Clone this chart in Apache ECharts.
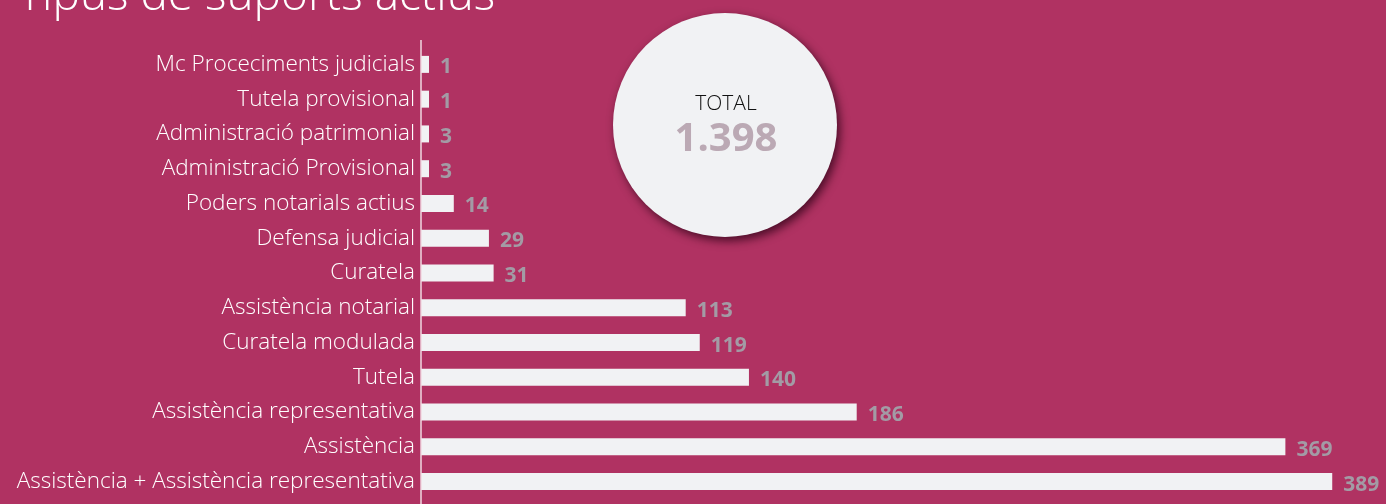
<!DOCTYPE html>
<html>
<head>
<meta charset="utf-8">
<script src="https://cdn.jsdelivr.net/npm/echarts@6/dist/echarts.min.js"></script>
<style>
    html, body { margin: 0; padding: 0; background: #b03262; }
    #chart { width: 1386px; height: 504px; }
</style>
</head>
<body>
<div id="chart"></div>
<script>
// categories from top to bottom as they appear
const categories = [
    'Mc Proceciments judicials',
    'Tutela provisional',
    'Administració patrimonial',
    'Administració Provisional',
    'Poders notarials actius',
    'Defensa judicial',
    'Curatela',
    'Assistència notarial',
    'Curatela modulada',
    'Tutela',
    'Assistència representativa',
    'Assistència',
    'Assistència + Assistència representativa'
]
const values = [1, 1, 3, 3, 14, 29, 31, 113, 119, 140, 186, 369, 389]
const titleText = 'Tipus de suports actius'
const totalLabel = 'TOTAL'
const totalValue = '1.398'

const chart = echarts.init(document.getElementById('chart'))

const option = {
    backgroundColor: '#b03262',
    animation: false,
    grid: {
        left: 421,
        right: 28,
        top: 47,
        bottom: 5,
        containLabel: false
    },
    xAxis: {
        type: 'value',
        min: 0,
        max: 400,
        show: false
    },
    yAxis: {
        type: 'category',
        data: categories,
        inverse: true,
        axisLine: { show: false },
        axisTick: { show: false },
        axisLabel: {
            color: '#ffffff',
            fontFamily: 'Open Sans',
            fontWeight: 300,
            fontSize: 22.5,
            margin: 6
        }
    },
    series: [
        {
            type: 'bar',
            data: values,
            barWidth: 17,
            barMinHeight: 8,
            itemStyle: { color: '#f1f2f4' },
            label: {
                show: true,
                position: 'right',
                distance: 11,
                offset: [0, 3],
                color: '#a39ba5',
                fontFamily: 'Open Sans',
                fontWeight: 'bold',
                fontSize: 21
            }
        }
    ],
    graphic: [
        // eje vertical
        {
            type: 'line',
            shape: { x1: 421, y1: 40, x2: 421, y2: 504 },
            style: { stroke: '#f0d8e2', lineWidth: 1.5 },
            z: 10
        },
        // titulo cortado arriba
        {
            type: 'text',
            left: 18,
            top: -26,
            style: {
                text: titleText,
                fill: '#ffffff',
                font: '300 46px "Open Sans"'
            }
        },
        // circulo del total
        {
            type: 'circle',
            shape: { cx: 725, cy: 125, r: 112 },
            style: {
                fill: '#f1f2f4',
                shadowBlur: 10,
                shadowOffsetX: 3,
                shadowOffsetY: 4,
                shadowColor: 'rgba(40,0,20,0.75)'
            },
            z: 20
        },
        {
            type: 'text',
            x: 726,
            y: 104,
            style: {
                text: totalLabel,
                fill: '#111111',
                font: '300 21px "Open Sans"',
                align: 'center',
                verticalAlign: 'middle'
            },
            z: 21
        },
        {
            type: 'text',
            x: 726,
            y: 140,
            style: {
                text: totalValue,
                fill: '#bba9b4',
                font: 'bold 40px "Open Sans"',
                align: 'center',
                verticalAlign: 'middle'
            },
            z: 21
        }
    ]
}
chart.setOption(option)
</script>
</body>
</html>
